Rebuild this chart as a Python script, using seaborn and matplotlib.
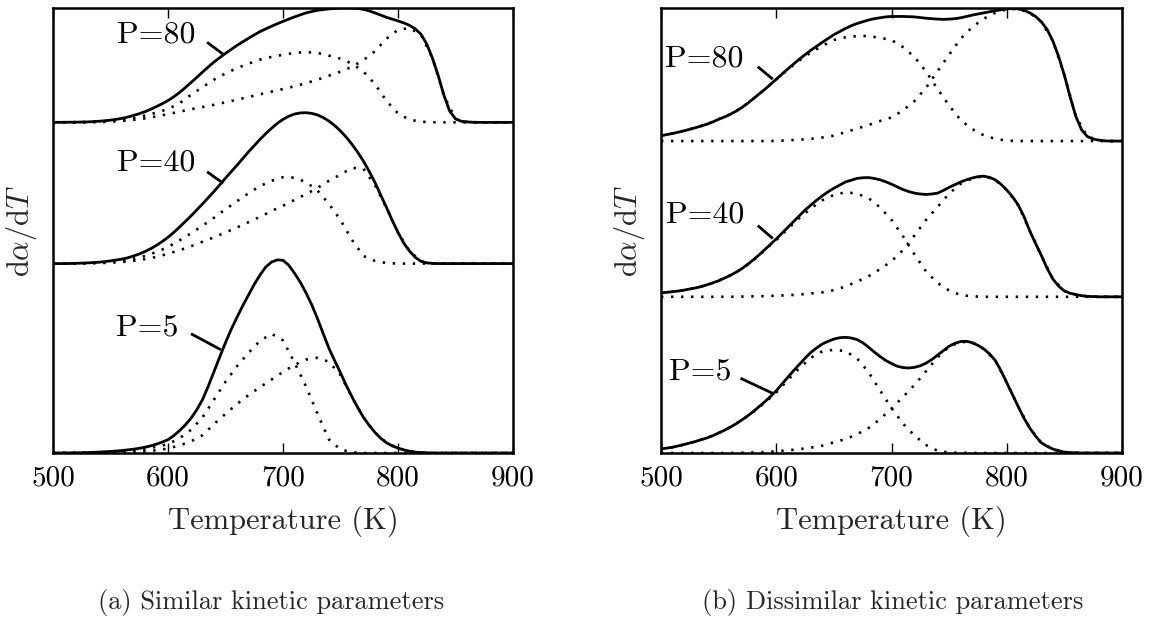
import numpy as np
import pandas as pd
import matplotlib
matplotlib.use("Agg")
import matplotlib.pyplot as plt
import seaborn as sns

# ---------------- data (heights above each curve's baseline) ----------------
temperature_total = list(range(500, 901, 5))   # solid curves
temperature_comp = list(range(500, 901, 10))   # dotted component curves

# (a) similar kinetic parameters
a_offsets = {"P=5": 0.0, "P=40": 42.57, "P=80": 74.3}
a5_total = [0, 0.01, 0.02, 0.03, 0.05, 0.07, 0.1, 0.15, 0.2, 0.27, 0.35, 0.45, 0.55, 0.7, 0.85, 1.05, 1.3, 1.6, 2.0, 2.45,
            3.0, 3.9, 5.0, 6.3, 7.8, 9.7, 12.0, 15.0, 18.3, 21.6, 24.8, 27.8, 30.5, 33.1, 35.5, 37.9, 40.0, 41.8, 42.9, 43.4,
            43.3, 42.2, 40.4, 38.4, 36.0, 33.3, 30.2, 26.8, 23.5, 20.7, 18.0, 15.2, 12.6, 10.2, 8.0, 6.2, 4.6, 3.3, 2.3, 1.6,
            1.1, 0.7, 0.4, 0.2, 0.1, 0.05, 0, 0, 0, 0, 0, 0, 0, 0, 0, 0, 0, 0, 0, 0, 0]
a5_comp1 = [0, 0.02, 0.05, 0.1, 0.15, 0.25, 0.4, 0.6, 0.9, 1.4, 2.0, 3.3, 5.2, 8.0, 12.0, 16.0, 19.5, 22.5, 25.2, 26.8,
            25.3, 20.3, 15.0, 8.8, 3.0, 0.8, 0.15, 0, 0, 0, 0, 0, 0, 0, 0, 0, 0, 0, 0, 0, 0]
a5_comp2 = [0, 0, 0, 0, 0.05, 0.1, 0.15, 0.25, 0.4, 0.6, 1.0, 1.7, 2.6, 4.0, 6.5, 8.8, 11.0, 13.0, 14.8, 16.5,
            18.2, 19.8, 21.0, 21.4, 20.5, 17.5, 12.5, 8.0, 4.6, 2.3, 1.1, 0.4, 0.1, 0, 0, 0, 0, 0, 0, 0, 0]

a40_total = [0, 0, 0, 0.02, 0.05, 0.1, 0.15, 0.22, 0.3, 0.45, 0.6, 0.8, 1.0, 1.3, 1.7, 2.15, 2.7, 3.35, 4.1, 4.95,
             5.9, 7.0, 8.2, 9.45, 10.7, 12.05, 13.4, 14.8, 16.2, 17.7, 19.2, 20.65, 22.1, 23.6, 25.1, 26.5, 27.9, 29.2, 30.4, 31.5,
             32.4, 33.1, 33.6, 33.85, 33.9, 33.75, 33.4, 32.8, 32.0, 31.0, 29.8, 28.4, 26.8, 25.0, 23.0, 20.7, 18.2, 15.4, 12.6, 9.7,
             7.0, 4.6, 2.8, 1.4, 0.5, 0.15, 0.05, 0, 0, 0, 0, 0, 0, 0, 0, 0, 0, 0, 0, 0, 0]
a40_comp1 = [0, 0, 0.05, 0.1, 0.2, 0.4, 0.65, 1.1, 1.7, 2.6, 3.7, 5.2, 6.8, 8.5, 10.3, 12.2, 14.0, 15.8, 17.4, 18.6,
             19.4, 19.3, 18.3, 16.4, 13.4, 9.8, 5.3, 1.7, 0.6, 0.1, 0, 0, 0, 0, 0, 0, 0, 0, 0, 0, 0]
a40_comp2 = [0, 0, 0, 0.05, 0.1, 0.2, 0.35, 0.6, 1.0, 1.5, 2.2, 3.0, 3.9, 4.9, 5.9, 7.0, 8.1, 9.3, 10.5, 11.8,
             13.0, 14.3, 15.6, 17.0, 18.6, 20.0, 21.5, 21.3, 17.6, 12.5, 7.0, 2.8, 0.5, 0.05, 0, 0, 0, 0, 0, 0, 0]

a80_total = [0, 0.01, 0.02, 0.03, 0.05, 0.07, 0.1, 0.17, 0.25, 0.36, 0.5, 0.68, 0.9, 1.2, 1.55, 1.95, 2.4, 2.95, 3.55, 4.2,
             4.9, 5.75, 6.7, 7.8, 8.95, 10.1, 11.3, 12.45, 13.55, 14.55, 15.5, 16.4, 17.3, 18.1, 18.9, 19.65, 20.4, 21.0, 21.6, 22.15,
             22.7, 23.2, 23.7, 24.15, 24.6, 24.9, 25.2, 25.35, 25.5, 25.6, 25.7, 25.7, 25.7, 25.6, 25.4, 25.05, 24.6, 24.1, 23.6, 23.2,
             22.8, 22.35, 21.8, 21.0, 19.8, 17.6, 14.4, 10.5, 6.0, 2.5, 0.8, 0.25, 0.1, 0.03, 0, 0, 0, 0, 0, 0, 0]
a80_comp1 = [0, 0.02, 0.05, 0.1, 0.2, 0.35, 0.6, 1.0, 1.5, 2.2, 3.0, 4.3, 6.2, 7.9, 9.6, 11.0, 12.2, 13.2, 14.1, 14.7,
             15.2, 15.6, 15.8, 15.6, 15.0, 14.3, 13.2, 11.4, 8.6, 4.8, 2.0, 0.6, 0.15, 0.03, 0, 0, 0, 0, 0, 0, 0]
a80_comp2 = [0, 0, 0, 0, 0.05, 0.15, 0.3, 0.55, 0.9, 1.35, 1.85, 2.4, 2.95, 3.45, 3.95, 4.5, 5.1, 5.7, 6.3, 6.9,
             7.5, 8.1, 8.8, 9.6, 10.5, 11.4, 12.5, 14.0, 16.0, 18.8, 20.8, 21.2, 19.7, 14.4, 6.0, 0.8, 0.1, 0, 0, 0, 0]

# (b) dissimilar kinetic parameters
b_offsets = {"P=5": 0.0, "P=40": 35.1, "P=80": 70.1}
b5_total = [0.9, 1.1, 1.3, 1.6, 1.9, 2.25, 2.6, 3.0, 3.4, 3.9, 4.5, 5.1, 5.8, 6.55, 7.4, 8.3, 9.3, 10.4, 11.5, 12.7,
            14.0, 15.5, 17.0, 18.5, 19.9, 21.3, 22.6, 23.6, 24.5, 25.1, 25.6, 25.9, 26.0, 25.85, 25.5, 24.8, 23.8, 22.7, 21.7, 20.8,
            20.1, 19.5, 19.2, 19.1, 19.25, 19.6, 20.2, 21.0, 22.0, 23.0, 24.0, 24.65, 25.05, 25.1, 24.8, 24.2, 23.4, 22.3, 20.8, 18.5,
            15.8, 13.1, 10.4, 7.8, 5.6, 3.8, 2.3, 1.5, 0.9, 0.5, 0.2, 0.1, 0.05, 0, 0, 0, 0, 0, 0, 0, 0]
b5_comp1 = [0.9, 1.3, 1.9, 2.6, 3.4, 4.5, 5.8, 7.35, 9.2, 11.3, 13.6, 16.4, 19.05, 21.4, 22.85, 23.2, 22.9, 21.3, 18.2, 14.1,
            10.1, 6.6, 3.9, 1.8, 0.5, 0.1, 0.05, 0, 0, 0, 0, 0, 0, 0, 0, 0, 0, 0, 0, 0, 0]
b5_comp2 = [0, 0, 0, 0, 0, 0, 0, 0.05, 0.1, 0.2, 0.4, 0.6, 0.85, 1.2, 1.65, 2.4, 3.1, 4.2, 5.6, 7.6,
            10.0, 12.6, 15.3, 18.4, 21.5, 23.9, 25.0, 24.8, 23.4, 20.8, 15.8, 10.4, 5.6, 2.3, 0.9, 0.2, 0.05, 0, 0, 0, 0]

b40_total = [0.9, 1.0, 1.15, 1.3, 1.5, 1.75, 2.0, 2.3, 2.7, 3.15, 3.6, 4.2, 4.8, 5.5, 6.3, 7.25, 8.3, 9.4, 10.6, 11.8,
             13.0, 14.3, 15.6, 16.9, 18.2, 19.5, 20.6, 21.7, 22.7, 23.6, 24.4, 25.1, 25.8, 26.2, 26.6, 26.75, 26.8, 26.6, 26.3, 25.85,
             25.3, 24.7, 24.1, 23.65, 23.3, 23.1, 23.0, 23.1, 23.3, 23.9, 24.6, 25.2, 25.8, 26.3, 26.7, 27.0, 27.1, 26.85, 26.3, 25.3,
             24.0, 22.5, 20.6, 18.0, 14.8, 12.0, 9.3, 6.4, 4.0, 2.4, 1.3, 0.8, 0.5, 0.25, 0.1, 0.05, 0, 0, 0, 0, 0]
b40_comp1 = [0.9, 1.15, 1.5, 2.0, 2.7, 3.6, 4.8, 6.25, 8.2, 10.45, 12.75, 15.25, 17.7, 19.85, 21.7, 22.9, 23.5, 23.2, 22.2, 20.1,
             17.3, 13.6, 9.5, 5.7, 3.1, 1.4, 0.4, 0.1, 0, 0, 0, 0, 0, 0, 0, 0, 0, 0, 0, 0, 0]
b40_comp2 = [0, 0, 0, 0, 0, 0, 0, 0.05, 0.1, 0.15, 0.25, 0.35, 0.5, 0.75, 1.0, 1.5, 2.3, 3.4, 4.6, 6.2,
             8.0, 10.5, 13.8, 17.3, 20.2, 23.2, 25.4, 26.6, 27.1, 26.3, 24.0, 20.6, 14.8, 9.3, 4.0, 1.3, 0.5, 0.1, 0, 0, 0]

b80_total = [1.2, 1.45, 1.7, 2.0, 2.3, 2.65, 3.0, 3.4, 3.8, 4.3, 4.9, 5.4, 6.0, 6.7, 7.5, 8.45, 9.5, 10.55, 11.6, 12.75,
             13.9, 15.05, 16.2, 17.3, 18.4, 19.4, 20.4, 21.3, 22.2, 23.05, 23.9, 24.6, 25.3, 25.9, 26.4, 26.8, 27.2, 27.5, 27.7, 27.9,
             28.0, 28.0, 28.0, 27.95, 27.9, 27.75, 27.6, 27.5, 27.4, 27.35, 27.4, 27.5, 27.7, 28.0, 28.3, 28.55, 28.8, 29.05, 29.3, 29.5,
             29.7, 29.8, 29.7, 29.4, 28.8, 28.0, 26.8, 25.1, 22.5, 19.0, 14.8, 9.9, 5.5, 2.5, 1.0, 0.45, 0.2, 0.05, 0, 0, 0]
b80_comp1 = [1.2, 1.7, 2.3, 3.0, 3.8, 4.9, 6.0, 7.5, 9.5, 11.6, 13.85, 16.05, 18.1, 19.9, 21.4, 22.7, 23.3, 23.6, 23.6, 23.2,
             22.7, 21.1, 18.9, 15.6, 11.7, 8.0, 4.7, 2.7, 1.3, 0.5, 0.1, 0, 0, 0, 0, 0, 0, 0, 0, 0, 0]
b80_comp2 = [0, 0, 0, 0, 0, 0, 0, 0, 0, 0, 0.05, 0.15, 0.3, 0.5, 0.8, 1.2, 2.0, 2.8, 3.6, 4.5,
             5.3, 6.9, 9.0, 12.0, 15.7, 19.4, 23.0, 25.6, 27.5, 28.8, 29.6, 29.7, 28.8, 26.8, 22.5, 14.8, 5.5, 1.0, 0.2, 0, 0]

xticks = [500, 600, 700, 800, 900]
xlabel = "Temperature (K)"
ylabel = r"d$\alpha$/d$T$"
captions = ["(a) Similar kinetic parameters", "(b) Dissimilar kinetic parameters"]

panels = [
    (a_offsets, {"P=5": (a5_total, a5_comp1, a5_comp2),
                 "P=40": (a40_total, a40_comp1, a40_comp2),
                 "P=80": (a80_total, a80_comp1, a80_comp2)}),
    (b_offsets, {"P=5": (b5_total, b5_comp1, b5_comp2),
                 "P=40": (b40_total, b40_comp1, b40_comp2),
                 "P=80": (b80_total, b80_comp1, b80_comp2)}),
]

# label layout: (text right edge T, text y, leader start (T,y), leader end (T,y))
label_layout = [
    {"P=80": (624, 94.0, (634, 92.3), (648, 89.6)),
     "P=40": (624, 65.3, (634, 63.2), (648, 60.6)),
     "P=5": (609, 28.2, (620, 26.8), (646, 23.2))},
    {"P=80": (572, 88.7, (584, 86.8), (597, 84.0)),
     "P=40": (572, 53.5, (584, 51.1), (597, 48.2)),
     "P=5": (561, 18.3, (569, 16.8), (597, 13.4))},
]

# ---------------- styling ----------------
sns.set_theme(style="ticks")
plt.rcParams["font.family"] = ["cmr10", "DejaVu Serif"]
plt.rcParams["mathtext.fontset"] = "cm"
plt.rcParams["axes.formatter.use_mathtext"] = True
plt.rcParams["axes.unicode_minus"] = False

FS_TICK = 21
FS_LABEL = 22
FS_P = 23
FS_CAP = 19
fig = plt.figure(figsize=(11.52, 6.21), dpi=100)
W, H = 1152, 621
axes_boxes = [(53, 8, 460, 445), (661, 8, 461, 445)]
caption_centers = [271, 893]

rows = []
for pi, (offs, curves) in enumerate(panels):
    for pname, (tot, c1, c2) in curves.items():
        assert len(tot) == len(temperature_total), (pi, pname)
        assert len(c1) == len(temperature_comp) and len(c2) == len(temperature_comp), (pi, pname)
        for t, v in zip(temperature_total, tot):
            rows.append({"panel": pi, "P": pname, "kind": "total", "T": t, "y": offs[pname] + v})
        for kind, vals in (("c1", c1), ("c2", c2)):
            for t, v in zip(temperature_comp, vals):
                rows.append({"panel": pi, "P": pname, "kind": kind, "T": t, "y": offs[pname] + v})
df = pd.DataFrame(rows)

for pi, (x0, y0, w, h) in enumerate(axes_boxes):
    ax = fig.add_axes([x0 / W, 1 - (y0 + h) / H, w / W, h / H])
    sub = df[df["panel"] == pi]
    for (pname, kind), g in sub.groupby(["P", "kind"]):
        if kind == "total":
            sns.lineplot(data=g, x="T", y="y", ax=ax, color="black", linewidth=2.0,
                         estimator=None, sort=False)
        else:
            sns.lineplot(data=g, x="T", y="y", ax=ax, color="black", linewidth=1.9,
                         estimator=None, sort=False, linestyle=(0, (0.9, 2.9)))
    ax.set_xlim(500, 900)
    ax.set_ylim(0, 100)
    ax.set_xticks(xticks)
    ax.set_xticklabels([str(t) for t in xticks])
    ax.set_yticks([])
    ax.tick_params(axis="x", direction="in", top=True, bottom=True, length=7, width=1,
                   labelsize=FS_TICK, pad=9, colors="black")
    for s in ax.spines.values():
        s.set_linewidth(1.8)
        s.set_color("black")
    ax.set_xlabel(xlabel, fontsize=FS_LABEL, labelpad=10)
    ax.set_ylabel(ylabel, fontsize=FS_LABEL, labelpad=10)

    for pname, (tx, ty, (lx0, ly0), (lx1, ly1)) in label_layout[pi].items():
        ax.text(tx, ty, pname, fontsize=FS_P, ha="right", va="center", color="black")
        ax.plot([lx0, lx1], [ly0, ly1], color="black", linewidth=2.0, solid_capstyle="butt")

    fig.text(caption_centers[pi] / W, 18 / H, captions[pi], fontsize=FS_CAP, ha="center", va="center")

fig.savefig("out.png", dpi=100, facecolor="white")
